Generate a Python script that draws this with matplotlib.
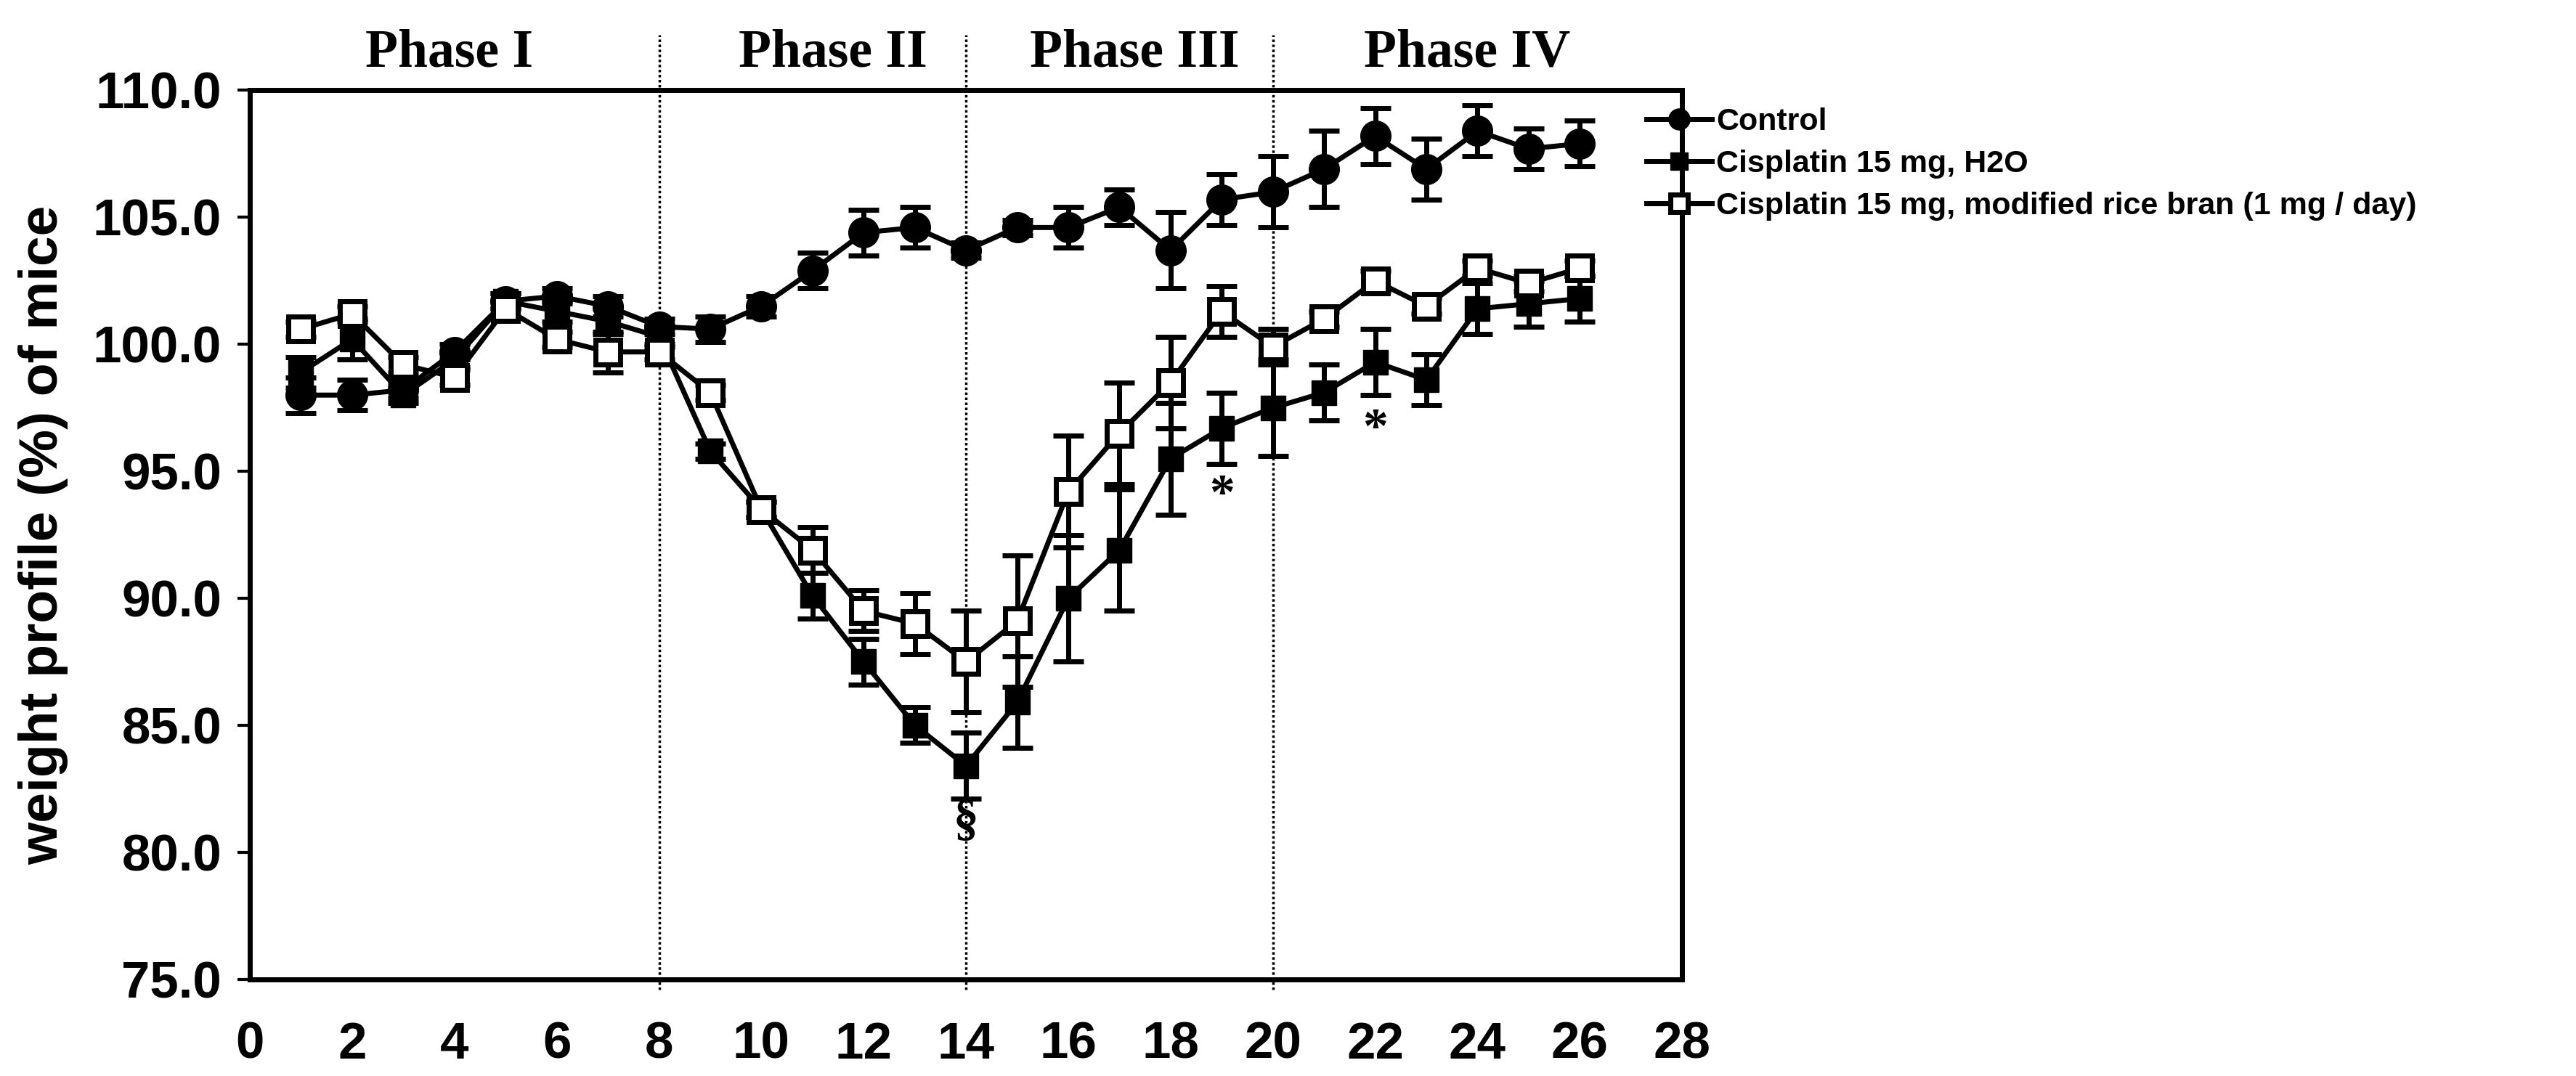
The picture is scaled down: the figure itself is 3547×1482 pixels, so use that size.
import numpy as np
import matplotlib
matplotlib.use("Agg")
import matplotlib.pyplot as plt

# days of measurement
days = list(range(1, 27))

# weight profile (%)
control = [98.0, 98.0, 98.2, 99.7, 101.7, 101.9, 101.5, 100.7, 100.6, 101.5,
           102.9, 104.4, 104.6, 103.7, 104.6, 104.6, 105.4, 103.7, 105.7, 106.0,
           106.9, 108.2, 106.9, 108.4, 107.7, 107.9]
control_err = [0.7, 0.6, 0.3, 0.3, 0.3, 0.3, 0.4, 0.3, 0.5, 0.4,
               0.7, 0.9, 0.8, 0.3, 0.3, 0.8, 0.7, 1.5, 1.0, 1.4,
               1.5, 1.1, 1.2, 1.0, 0.8, 0.9]

cis_h2o = [98.9, 100.2, 98.0, 99.4, 101.7, 101.3, 100.9, 100.3, 95.8, 93.5,
           90.1, 87.5, 85.0, 83.4, 85.9, 90.0, 91.9, 95.5, 96.7, 97.5,
           98.1, 99.3, 98.6, 101.4, 101.6, 101.8]
cis_h2o_err = [0.6, 0.8, 0.3, 0.3, 0.3, 0.4, 0.5, 0.4, 0.3, 0.3,
               0.9, 0.9, 0.7, 1.3, 1.8, 2.5, 2.4, 2.2, 1.4, 1.9,
               1.1, 1.3, 1.0, 1.0, 0.9, 0.9]

cis_bran = [100.6, 101.2, 99.2, 98.7, 101.4, 100.2, 99.7, 99.7, 98.1, 93.5,
            91.9, 89.5, 89.0, 87.5, 89.1, 94.2, 96.5, 98.5, 101.3, 99.9,
            101.0, 102.5, 101.5, 103.0, 102.4, 103.0]
cis_bran_err = [0.3, 0.3, 0.3, 0.3, 0.3, 0.3, 0.8, 0.3, 0.3, 0.3,
                0.9, 0.8, 1.2, 2.0, 2.6, 2.2, 2.0, 1.8, 1.0, 0.7,
                0.3, 0.4, 0.3, 0.3, 0.3, 0.3]

phase_names = ["Phase I", "Phase II", "Phase III", "Phase IV"]
phase_x = [3.9, 11.4, 17.3, 23.8]
phase_bounds = [8, 14, 20]

# significance marks (x, y, symbol)
marks = [(14, 81.2, "\u00a7"), (19, 94.0, "*"), (22, 96.6, "*")]

labels = ["Control", "Cisplatin 15 mg, H2O",
          "Cisplatin 15 mg, modified rice bran (1 mg / day)"]

fig = plt.figure(figsize=(35.47, 14.82), dpi=100)
ax = fig.add_axes([0.097, 0.090, 0.556, 0.826])

lw = 5
style = dict(color="black", linewidth=lw, elinewidth=lw, capsize=15,
             capthick=lw, zorder=3)

c1 = ax.errorbar(days, control, yerr=control_err, marker="o", markersize=30,
                 markerfacecolor="black", markeredgecolor="black", **style)
c2 = ax.errorbar(days, cis_h2o, yerr=cis_h2o_err, marker="s", markersize=25,
                 markerfacecolor="black", markeredgecolor="black", **style)
c3 = ax.errorbar(days, cis_bran, yerr=cis_bran_err, marker="s", markersize=25,
                 markerfacecolor="white", markeredgecolor="black", markeredgewidth=5,
                 **style)

for b in phase_bounds:
    ax.plot([b, b], [74.6, 112.2], color="black", linestyle=(0, (1, 1)),
            linewidth=2.5, clip_on=False, zorder=2)

for name, px in zip(phase_names, phase_x):
    ax.text(px, 110.5, name, ha="center", va="bottom", fontsize=53,
            fontweight="bold", family="Liberation Serif")

for mx, my, sym in marks:
    ax.text(mx, my, sym, ha="center", va="center", fontsize=50,
            fontweight="bold", family="Liberation Serif")

ax.set_xlim(0, 28)
ax.set_ylim(75, 110)
ax.set_xticks(range(0, 29, 2))
ax.set_yticks(np.arange(75, 110.1, 5))
ax.set_yticklabels([f"{v:.1f}" for v in np.arange(75, 110.1, 5)])
for lab in ax.get_xticklabels() + ax.get_yticklabels():
    lab.set_fontfamily("Liberation Sans")
    lab.set_fontweight("bold")
    lab.set_fontsize(51)
ax.tick_params(axis="y", direction="out", length=12, width=3, pad=16)
ax.tick_params(axis="x", length=0, pad=42)
for sp in ax.spines.values():
    sp.set_linewidth(5)

ax.set_ylabel("weight profile (%) of mice", fontsize=54, fontweight="bold",
              family="Liberation Sans", labelpad=24)

# legend shows only line + marker, no error bars
handles = [c[0] for c in (c1, c2, c3)]
leg = fig.legend(handles, labels, loc="upper left", bbox_to_anchor=(0.639, 0.900),
                 frameon=False, borderpad=0, borderaxespad=0,
                 prop={"family": "Liberation Sans", "weight": "bold", "size": 31},
                 handlelength=2.1, handletextpad=0.15, labelspacing=0.42,
                 markerscale=0.7)
for line in leg.get_lines():
    line.set_linewidth(5)

fig.savefig("out.png", dpi=100, facecolor="white")
